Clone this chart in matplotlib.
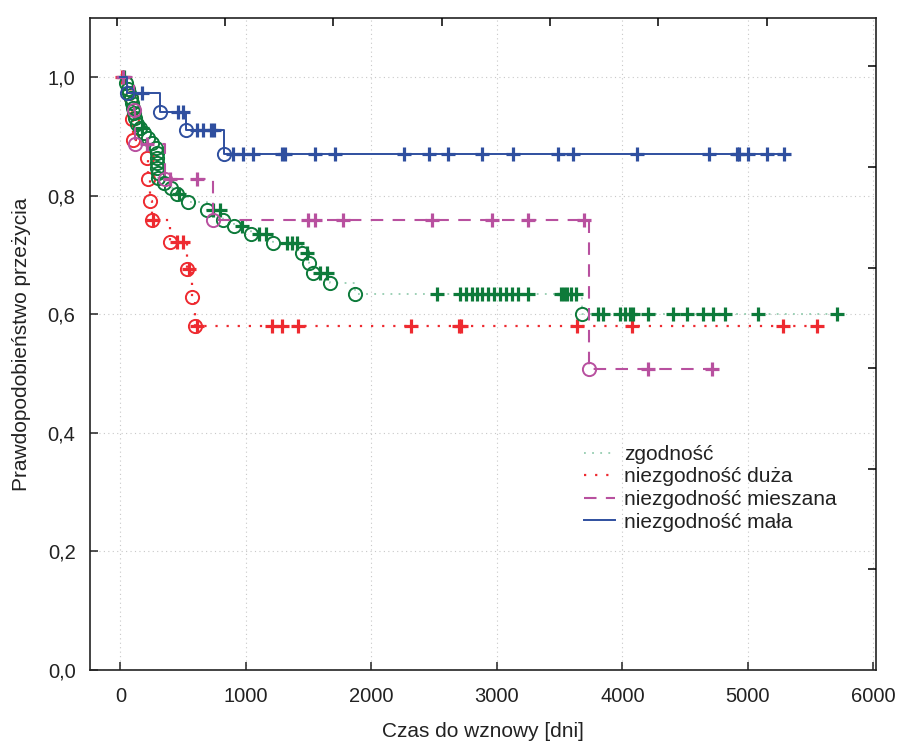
import numpy as np
import matplotlib
matplotlib.use("Agg")
import matplotlib.pyplot as plt
from matplotlib.lines import Line2D
from matplotlib.ticker import FuncFormatter

plt.rcParams['font.family'] = ['Liberation Sans', 'DejaVu Sans']

# ---- Kaplan-Meier data: event times (days), survival after each event, censored times ----
labels = ["zgodność", "niezgodność duża", "niezgodność mieszana", "niezgodność mała"]

# zgodność
zg_event_t = [44, 60, 68, 84, 92, 100, 108, 116, 131, 155, 187, 219, 251, 283, 291,
              292, 293, 294, 295, 299, 347, 402, 450, 538, 689, 817, 904, 1040, 1215,
              1450, 1500, 1530, 1669, 1869, 3677]
zg_event_s = [0.990, 0.981, 0.973, 0.965, 0.956, 0.948, 0.939, 0.931, 0.922, 0.914,
              0.906, 0.897, 0.889, 0.880, 0.872, 0.863, 0.855, 0.847, 0.838, 0.830,
              0.821, 0.813, 0.803, 0.789, 0.776, 0.760, 0.749, 0.735, 0.720, 0.704,
              0.687, 0.670, 0.653, 0.635, 0.600]
zg_cens_t = [25, 170, 470, 739, 793, 966, 1105, 1160, 1324, 1364, 1404, 1490, 1590, 1643,
             2522, 2705, 2753, 2801, 2841, 2881, 2929, 2976, 3024, 3072, 3120, 3168,
             3247, 3510, 3534, 3558, 3590, 3630,
             3807, 3842, 3980, 4020, 4060, 4087, 4206, 4405, 4512, 4639, 4723, 4817,
             5077, 5707]

# niezgodność duża
nd_event_t = [85, 95, 102, 209, 222, 235, 249, 394, 527, 567, 594]
nd_event_s = [0.965, 0.929, 0.894, 0.863, 0.829, 0.792, 0.759, 0.722, 0.677, 0.630, 0.581]
nd_cens_t = [15, 255, 448, 500, 545, 607, 1205, 1284, 1417, 2312, 2697, 2713, 3635,
             4073, 5276, 5547]

# niezgodność mieszana
nm_event_t = [105, 112, 355, 739, 3735]
nm_event_s = [0.944, 0.888, 0.829, 0.759, 0.507]
nm_cens_t = [20, 209, 394, 607, 1496, 1550, 1775, 2480, 2958, 3249, 3693, 4201, 4711]

# niezgodność mała
ns_event_t = [49, 315, 522, 825]
ns_event_s = [0.973, 0.9415, 0.9106, 0.871]
ns_cens_t = [169, 456, 496, 610, 657, 721, 745, 899, 978, 1058, 1284, 1311, 1550, 1709,
             2259, 2458, 2612, 2878, 3130, 3484, 3608, 4118, 4692, 4910, 4931, 5002,
             5149, 5289]

x_ticks = [0, 1000, 2000, 3000, 4000, 5000, 6000]
y_ticks = [0.0, 0.2, 0.4, 0.6, 0.8, 1.0]

# ---- styles ----
c_green_line = '#95cdb0'
c_green = '#0d7a3a'
c_red = '#ee2a30'
c_mag = '#b8509f'
c_blue = '#2f4f9f'

fig = plt.figure(figsize=(9.01, 7.42), dpi=100)
ax = fig.add_axes([89.5 / 901, 72 / 742, 786.5 / 901, 652 / 742])


def km_curve(ax, ev_t, ev_s, cens_t, line_color, mark_color, line_kw, z):
    ev_t = np.asarray(ev_t, float)
    ev_s = np.asarray(ev_s, float)
    cens_t = np.asarray(cens_t, float)
    t_end = max(ev_t.max(), cens_t.max())
    xs = np.r_[0.0, ev_t, t_end]
    ys = np.r_[1.0, ev_s, ev_s[-1]]
    ax.step(xs, ys, where='post', color=line_color, zorder=z, **line_kw)
    ax.plot(ev_t, ev_s, 'o', mfc='none', mec=mark_color, ms=9.5, mew=1.4,
            zorder=z + 0.1, linestyle='none')
    idx = np.searchsorted(ev_t, cens_t, side='right')
    cens_s = np.r_[1.0, ev_s][idx]
    ax.plot(cens_t, cens_s, '+', color=mark_color, ms=10, mew=2.3,
            zorder=z + 0.2, linestyle='none')


red_kw = dict(lw=1.6, linestyle=(0, (1, 4)))
green_kw = dict(lw=1.3, linestyle=(0, (1, 3.5)))
mag_kw = dict(lw=1.5, linestyle=(0, (6, 4.5)))
blue_kw = dict(lw=1.4, linestyle='-')

km_curve(ax, nd_event_t, nd_event_s, nd_cens_t, c_red, c_red, red_kw, 3)
km_curve(ax, zg_event_t, zg_event_s, zg_cens_t, c_green_line, c_green, green_kw, 4)
km_curve(ax, nm_event_t, nm_event_s, nm_cens_t, c_mag, c_mag, mag_kw, 5)
km_curve(ax, ns_event_t, ns_event_s, ns_cens_t, c_blue, c_blue, blue_kw, 6)

ax.set_xlim(-247, 6020)
ax.set_ylim(0, 1.1)
ax.set_xticks(x_ticks)
ax.set_yticks(y_ticks)
ax.yaxis.set_major_formatter(FuncFormatter(lambda v, p: f"{v:.1f}".replace('.', ',')))
ax.grid(True, color='#c8c8c8', linestyle=(0, (1, 3)), lw=0.8)
ax.set_axisbelow(True)
ax.tick_params(direction='in', length=6, width=1.1, labelsize=14.5, colors='#222222')
ax.tick_params(axis='x', pad=12)
ax.tick_params(axis='y', pad=10)
for s in ax.spines.values():
    s.set_linewidth(1.2)
    s.set_color('#222222')

ax.set_xlabel("Czas do wznowy [dni]", fontsize=15, labelpad=12, color='#222222')
ax.set_ylabel("Prawdopodobieństwo przeżycia", fontsize=15, labelpad=12, color='#222222')

# secondary frame ticks on the right and top
axr = ax.twinx()
axr.set_ylim(0, 6.48)
axr.set_yticks([1, 2, 3, 4, 5, 6])
axr.tick_params(direction='in', length=6, width=1.1, labelright=False)
axt = ax.twiny()
axt.set_xlim(0, 7.262)
axt.set_xticks([0.251 + k for k in range(7)])
axt.tick_params(direction='in', length=6, width=1.1, labeltop=False)
for a in (axr, axt):
    for s in a.spines.values():
        s.set_visible(False)

handles = [
    Line2D([], [], color=c_green_line, **green_kw),
    Line2D([], [], color=c_red, **red_kw),
    Line2D([], [], color=c_mag, **mag_kw),
    Line2D([], [], color=c_blue, **blue_kw),
]
leg = ax.legend(handles, labels, loc='upper left', bbox_to_anchor=(0.605, 0.374),
                frameon=False, fontsize=15, handlelength=1.5, labelspacing=0.17,
                handletextpad=0.4)
for t in leg.get_texts():
    t.set_color('#222222')

fig.savefig("out.png", dpi=100)
